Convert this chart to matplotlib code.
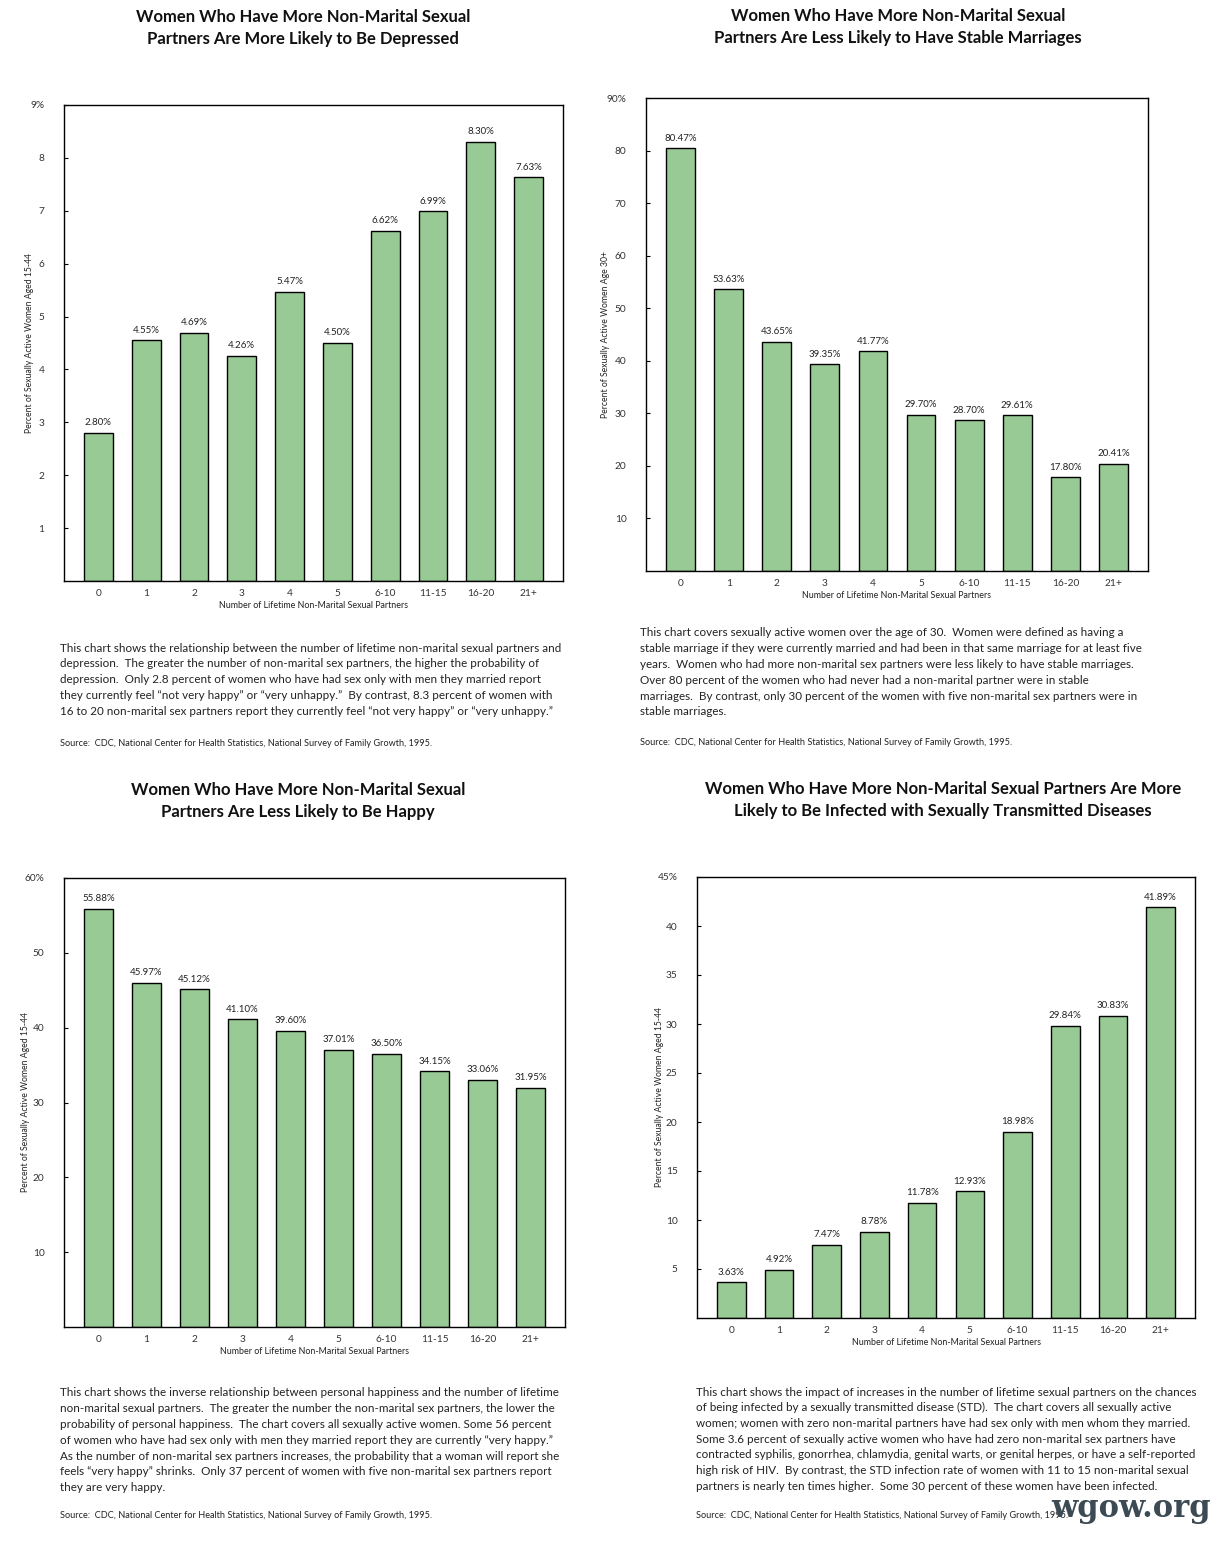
import matplotlib
matplotlib.use("Agg")
import matplotlib.pyplot as plt

W, H = 1223, 1541
FONT = "Lato"
plt.rcParams['font.family'] = [FONT, 'DejaVu Sans']

categories = ["0", "1", "2", "3", "4", "5", "6-10", "11-15", "16-20", "21+"]

depressed = [2.80, 4.55, 4.69, 4.26, 5.47, 4.50, 6.62, 6.99, 8.30, 7.63]
stable = [80.47, 53.63, 43.65, 39.35, 41.77, 29.70, 28.70, 29.61, 17.80, 20.41]
happy = [55.88, 45.97, 45.12, 41.10, 39.60, 37.01, 36.50, 34.15, 33.06, 31.95]
std = [3.63, 4.92, 7.47, 8.78, 11.78, 12.93, 18.98, 29.84, 30.83, 41.89]

titles = [
    "Women Who Have More Non-Marital Sexual\nPartners Are More Likely to Be Depressed",
    "Women Who Have More Non-Marital Sexual\nPartners Are Less Likely to Have Stable Marriages",
    "Women Who Have More Non-Marital Sexual\nPartners Are Less Likely to Be Happy",
    "Women Who Have More Non-Marital Sexual Partners Are More\nLikely to Be Infected with Sexually Transmitted Diseases",
]
ylabels = [
    "Percent of Sexually Active Women Aged 15-44",
    "Percent of Sexually Active Women Age 30+",
    "Percent of Sexually Active Women Aged 15-44",
    "Percent of Sexually Active Women Aged 15-44",
]
xlabel = "Number of Lifetime Non-Marital Sexual Partners"
ymax = [9, 90, 60, 45]
ystep = [1, 10, 10, 5]

captions = [
    ["This chart shows the relationship between the number of lifetime non-marital sexual partners and",
     "depression.  The greater the number of non-marital sex partners, the higher the probability of",
     "depression.  Only 2.8 percent of women who have had sex only with men they married report",
     "they currently feel \u201cnot very happy\u201d or \u201cvery unhappy.\u201d  By contrast, 8.3 percent of women with",
     "16 to 20 non-marital sex partners report they currently feel \u201cnot very happy\u201d or \u201cvery unhappy.\u201d"],
    ["This chart covers sexually active women over the age of 30.  Women were defined as having a",
     "stable marriage if they were currently married and had been in that same marriage for at least five",
     "years.  Women who had more non-marital sex partners were less likely to have stable marriages.",
     "Over 80 percent of the women who had never had a non-marital partner were in stable",
     "marriages.  By contrast, only 30 percent of the women with five non-marital sex partners were in",
     "stable marriages."],
    ["This chart shows the inverse relationship between personal happiness and the number of lifetime",
     "non-marital sexual partners.  The greater the number the non-marital sex partners, the lower the",
     "probability of personal happiness.  The chart covers all sexually active women. Some 56 percent",
     "of women who have had sex only with men they married report they are currently \u201cvery happy.\u201d",
     "As the number of non-marital sex partners increases, the probability that a woman will report she",
     "feels \u201cvery happy\u201d shrinks.  Only 37 percent of women with five non-marital sex partners report",
     "they are very happy."],
    ["This chart shows the impact of increases in the number of lifetime sexual partners on the chances",
     "of being infected by a sexually transmitted disease (STD).  The chart covers all sexually active",
     "women; women with zero non-marital partners have had sex only with men whom they married.",
     "Some 3.6 percent of sexually active women who have had zero non-marital sex partners have",
     "contracted syphilis, gonorrhea, chlamydia, genital warts, or genital herpes, or have a self-reported",
     "high risk of HIV.  By contrast, the STD infection rate of women with 11 to 15 non-marital sexual",
     "partners is nearly ten times higher.  Some 30 percent of these women have been infected."],
]
source = "Source:  CDC, National Center for Health Statistics, National Survey of Family Growth, 1995."

series = [depressed, stable, happy, std]

# layout in pixels: (left, top, right, bottom)
axes_px = [(64, 105, 563, 581), (646, 98, 1148, 571), (64, 878, 565, 1327), (697, 877, 1195, 1318)]
title_px = [(303, 28), (898, 27), (298, 801), (943, 800)]
ylab_x = [30, 606, 26, 659]
caption_px = [(60, 648), (640, 633), (60, 1393), (696, 1392)]
source_y = [744, 742, 1515, 1515]
line_pitch = 15.75

BAR_COLOR = "#97CA94"
TXT = "#222222"

fig = plt.figure(figsize=(W / 100, H / 100), dpi=100)
fig.patch.set_facecolor("white")

def fx(x):
    return x / W

def fy(y):
    return 1 - y / H

for i in range(4):
    l, t, r, b = axes_px[i]
    ax = fig.add_axes([fx(l), fy(b), (r - l) / W, (b - t) / H])
    xs = list(range(len(categories)))
    vals = series[i]
    ax.bar(xs, vals, width=0.6, color=BAR_COLOR, edgecolor="black", linewidth=1.0)
    for xv, v in zip(xs, vals):
        ax.annotate(f"{v:.2f}%", (xv, v), xytext=(0, 4), textcoords="offset points",
                    ha="center", va="bottom", fontsize=7, color=TXT)
    ax.set_xlim(-0.72, 9.72)
    ax.set_ylim(0, ymax[i])
    ticks = list(range(ystep[i], ymax[i] + 1, ystep[i]))
    ax.set_yticks(ticks)
    ax.set_yticklabels([str(tk) if tk != ymax[i] else f"{tk}%" for tk in ticks],
                       fontsize=7.3, color="#333333")
    ax.tick_params(axis="y", direction="in", length=3, width=0.8, pad=14)
    ax.set_xticks(xs)
    ax.set_xticklabels(categories, fontsize=7.3, color="#333333")
    ax.tick_params(axis="x", length=0, pad=6)
    for sp in ax.spines.values():
        sp.set_linewidth(1.0)
        sp.set_color("black")
    ax.set_xlabel(xlabel, fontsize=6.4, color=TXT, labelpad=2)
    fig.text(fx(ylab_x[i]), fy((t + b) / 2), ylabels[i], rotation=90, fontsize=6.2,
             color=TXT, ha="center", va="center")
    tx, ty = title_px[i]
    fig.text(fx(tx), fy(ty), titles[i], ha="center", va="center", fontsize=12,
             fontweight="bold", color="#111111", linespacing=1.5)
    cx, cy = caption_px[i]
    for k, line in enumerate(captions[i]):
        fig.text(fx(cx), fy(cy + k * line_pitch), line, ha="left", va="center",
                 fontsize=8.35, color=TXT)
    fig.text(fx(cx), fy(source_y[i]), source, ha="left", va="center", fontsize=6.6, color=TXT)

fig.text(fx(1131), fy(1509), "wgow.org", ha="center", va="center", fontsize=22,
         family=["DejaVu Serif"], fontweight="bold", color="#3b4a53")

fig.savefig("out.png", dpi=100, facecolor="white")
